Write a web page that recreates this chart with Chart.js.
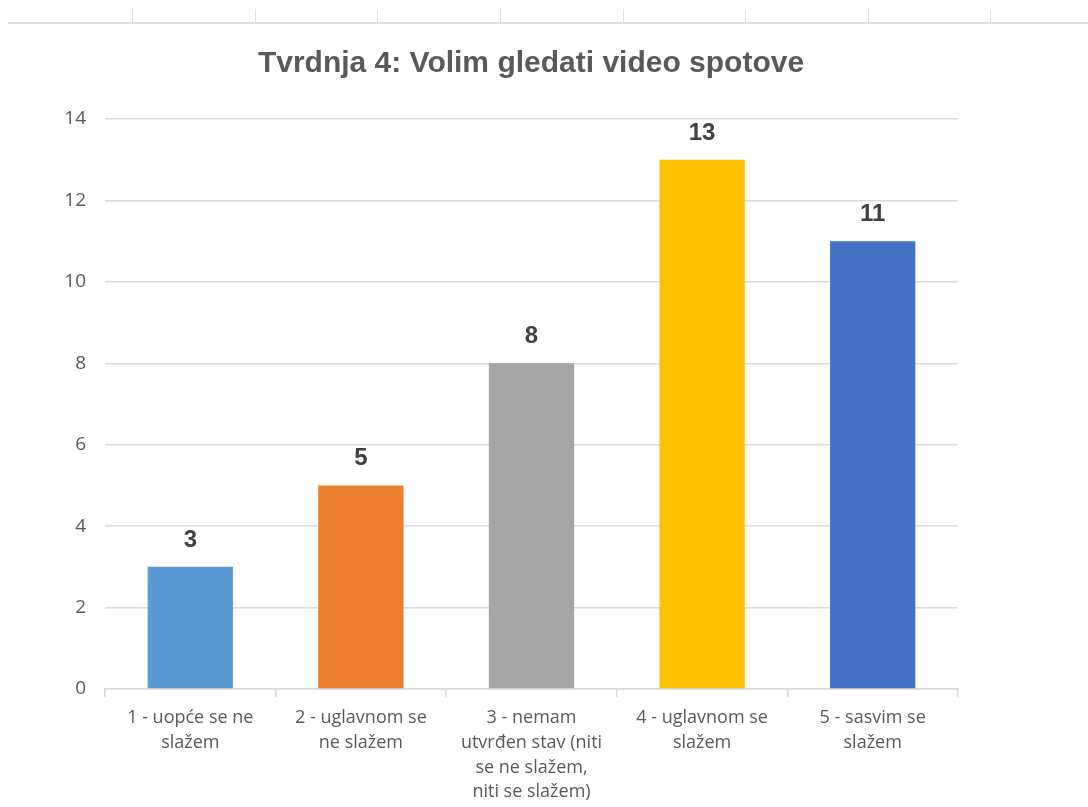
<!DOCTYPE html>
<html>
<head>
<meta charset="utf-8">
<script src="https://cdn.jsdelivr.net/npm/chart.js@4/dist/chart.umd.min.js"></script>
<style>
  html, body { margin: 0; padding: 0; background: #fff; }
  #wrap { position: relative; width: 1088px; height: 807px; overflow: hidden; }
  #sheet { position: absolute; left: 8px; top: 22px; width: 1080px; height: 0; border-top: 2px solid #dadfe8; }
  .col { position: absolute; top: 9px; width: 0; height: 13px; border-left: 1px solid #dadfe8; }
  canvas { position: absolute; left: 0; top: 0; }
</style>
</head>
<body>
<div id="wrap">
  <div id="sheet"></div>
  <canvas id="chart" width="1088" height="807"></canvas>
</div>
<script>
const title = 'Tvrdnja 4: Volim gledati video spotove';
const categories = [
    ['1 - uopće se ne', 'slažem'],
    ['2 - uglavnom se', 'ne slažem'],
    ['3 - nemam', 'utvrđen stav (niti', 'se ne slažem,', 'niti se slažem)'],
    ['4 - uglavnom se', 'slažem'],
    ['5 - sasvim se', 'slažem']
];
const values = [3, 5, 8, 13, 11];
const barColors = ['#5B9BD5', '#ED7D31', '#A5A5A5', '#FFC000', '#4472C4'];
const yTicks = [0, 2, 4, 6, 8, 10, 12, 14];

// spreadsheet column markers at the top
[132, 255, 377, 500, 623, 745, 868, 990].forEach(x => {
    const d = document.createElement('div');
    d.className = 'col';
    d.style.left = x + 'px';
    document.getElementById('wrap').appendChild(d);
});

// title is centred over the whole chart object, not the plot area
const chartTitle = {
    id: 'chartTitle',
    afterDraw(chart) {
        const ctx = chart.ctx;
        ctx.save();
        ctx.font = 'bold 30px "Liberation Sans", Arial, sans-serif';
        ctx.fillStyle = '#595959';
        ctx.textAlign = 'center';
        ctx.textBaseline = 'alphabetic';
        ctx.fillText(title, 531, 72);
        ctx.restore();
    }
};

const valueLabels = {
    id: 'valueLabels',
    afterDatasetsDraw(chart) {
        const ctx = chart.ctx;
        const meta = chart.getDatasetMeta(0);
        ctx.save();
        ctx.font = 'bold 24px "Liberation Sans", Arial, sans-serif';
        ctx.fillStyle = '#404040';
        ctx.textAlign = 'center';
        ctx.textBaseline = 'alphabetic';
        meta.data.forEach((bar, i) => {
            ctx.fillText(values[i], bar.x, bar.y - 20);
        });
        ctx.restore();
    }
};

const ctx = document.getElementById('chart').getContext('2d');
const chart = new Chart(ctx, {
    type: 'bar',
    data: {
        labels: categories,
        datasets: [{
            data: values,
            backgroundColor: barColors,
            borderWidth: 0,
            barPercentage: 0.5,
            categoryPercentage: 1
        }]
    },
    options: {
        responsive: false,
        animation: false,
        layout: { padding: { left: 0, right: 130, top: 119, bottom: 0 } },
        plugins: {
            legend: { display: false },
            tooltip: { enabled: false },
            title: { display: false }
        },
        scales: {
            x: {
                afterFit(scale) {
                    scale.height = 118;
                },
                grid: {
                    drawOnChartArea: false,
                    color: '#d9d9d9',
                    tickLength: 8,
                    lineWidth: 1.5
                },
                border: { color: '#d9d9d9', width: 1.5 },
                ticks: {
                    color: '#595959',
                    font: { family: '"Open Sans", sans-serif', size: 18, lineHeight: 1.37 },
                    maxRotation: 0,
                    autoSkip: false,
                    padding: 9
                }
            },
            y: {
                min: 0,
                max: 14,
                afterBuildTicks(scale) {
                    scale.ticks = yTicks.map(v => ({ value: v }));
                },
                afterFit(scale) {
                    scale.width = 105;
                },
                grid: {
                    color: '#d9d9d9',
                    lineWidth: 1.5,
                    drawTicks: false
                },
                border: { display: false },
                ticks: {
                    color: '#595959',
                    font: { family: '"Open Sans", sans-serif', size: 19 },
                    padding: 19
                }
            }
        }
    },
    plugins: [valueLabels, chartTitle]
});
</script>
</body>
</html>
